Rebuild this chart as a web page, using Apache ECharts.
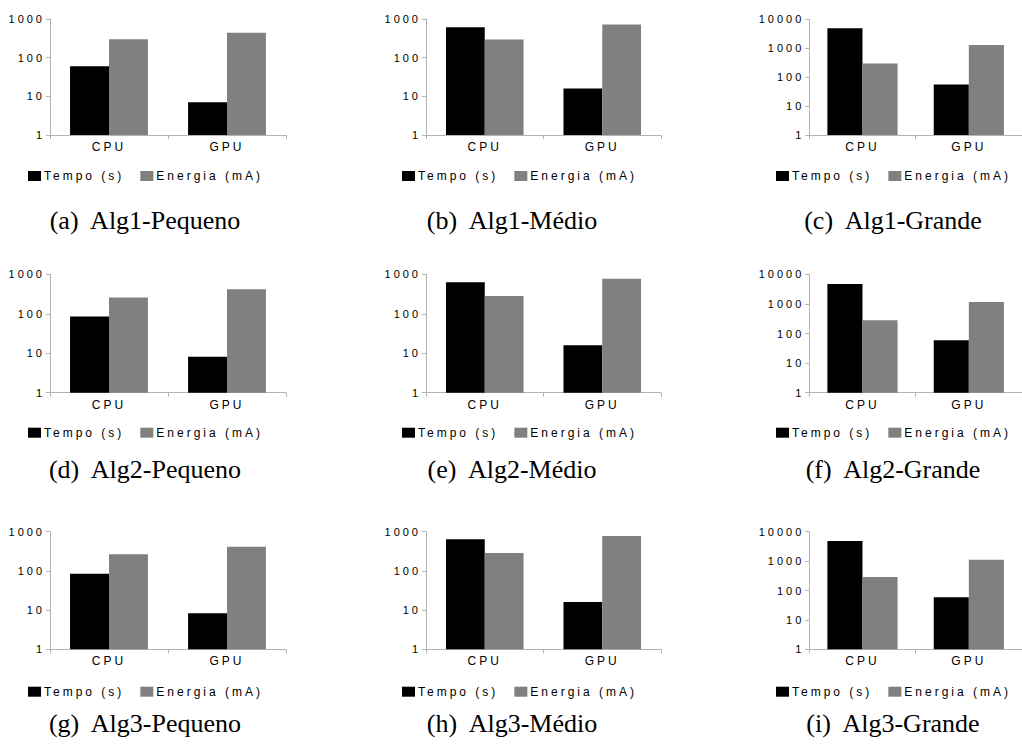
<!DOCTYPE html>
<html>
<head>
<meta charset="utf-8">
<script src="https://cdn.jsdelivr.net/npm/echarts@6/dist/echarts.min.js"></script>
<style>
  html, body { margin: 0; padding: 0; background: #fff; }
  #chart { width: 1022px; height: 749px; }
  /* the original figure uses spaced-out Arial for the chart texts */
  #chart text { letter-spacing: 3px; white-space: pre; }
  #chart text[style*="Serif"], #chart text[font-family*="Serif"] { letter-spacing: 0; }
</style>
</head>
<body>
<div id="chart"></div>
<script>
  const categories = ['CPU', 'GPU'];
  const seriesNames = ['Tempo (s)', 'Energia (mA)'];
  const captions = [
    '(a)  Alg1-Pequeno', '(b)  Alg1-Médio', '(c)  Alg1-Grande',
    '(d)  Alg2-Pequeno', '(e)  Alg2-Médio', '(f)  Alg2-Grande',
    '(g)  Alg3-Pequeno', '(h)  Alg3-Médio', '(i)  Alg3-Grande'
  ];
  const yMax = [1000, 1000, 10000, 1000, 1000, 10000, 1000, 1000, 10000];
  // one [CPU, GPU] pair per panel
  const tempo = [[60, 7], [610, 16], [4800, 55], [85, 8.2], [630, 16], [4700, 59], [85, 8.3], [640, 16], [4800, 59]];
  const energia = [[300, 440], [295, 725], [290, 1270], [258, 420], [284, 775], [280, 1150], [265, 414], [286, 777], [288, 1120]];

  const colLeft = [50, 426, 809.3];
  const colWidth = [236, 235, 224];
  const rowTop = [19, 274.3, 531.7];
  const rowHeight = [116, 118.4, 117.6];
  const legendLeft = [28, 402, 776];
  const legendTop = [170, 426.7, 685.7];
  const captionX = [145, 512, 893];
  const captionTop = [207, 456, 710];

  const sans = 'Liberation Sans';
  const axisColor = '#b3b3b3';

  const grid = [], xAxis = [], yAxis = [], series = [], legend = [], title = [];

  captions.forEach((caption, i) => {
    const row = Math.floor(i / 3);
    const col = i % 3;

    grid.push({
      left: colLeft[col],
      top: rowTop[row],
      width: colWidth[col],
      height: rowHeight[row]
    });

    xAxis.push({
      type: 'category',
      gridIndex: i,
      data: categories,
      axisLine: {lineStyle: {color: axisColor, width: 1}},
      axisTick: {show: true, length: 4, lineStyle: {color: axisColor}},
      axisLabel: {margin: 6, color: '#000', fontFamily: sans, fontSize: 12}
    });

    yAxis.push({
      type: 'log',
      gridIndex: i,
      logBase: 10,
      min: 1,
      max: yMax[i],
      splitLine: {show: false},
      axisLine: {show: true, lineStyle: {color: axisColor, width: 1}},
      axisTick: {show: true, length: 4, lineStyle: {color: axisColor}},
      axisLabel: {
        margin: 5,
        color: '#000',
        fontFamily: sans,
        fontSize: 11,
        formatter: v => String(Math.round(v))
      }
    });

    series.push({
      type: 'bar',
      name: seriesNames[0],
      xAxisIndex: i,
      yAxisIndex: i,
      data: tempo[i],
      itemStyle: {color: '#000000'},
      barGap: '0%',
      barCategoryGap: '34%',
      silent: true
    }, {
      type: 'bar',
      name: seriesNames[1],
      xAxisIndex: i,
      yAxisIndex: i,
      data: energia[i],
      itemStyle: {color: '#808080'},
      barGap: '0%',
      barCategoryGap: '34%',
      silent: true
    });

    legend.push({
      data: seriesNames,
      left: legendLeft[col],
      top: legendTop[row],
      padding: 0,
      icon: 'rect',
      itemWidth: 13,
      itemHeight: 10,
      itemGap: 43,
      selectedMode: false,
      textStyle: {color: '#000', fontFamily: sans, fontSize: 12, padding: [0, 0, 0, -2]}
    });

    title.push({
      text: caption,
      left: captionX[col],
      top: captionTop[row],
      textAlign: 'center',
      padding: 0,
      textStyle: {color: '#000', fontFamily: 'Liberation Serif', fontSize: 26, fontWeight: 'normal'}
    });
  });

  const chart = echarts.init(document.getElementById('chart'), null, {renderer: 'svg'});
  chart.setOption({
    animation: false,
    backgroundColor: '#ffffff',
    title: title,
    legend: legend,
    grid: grid,
    xAxis: xAxis,
    yAxis: yAxis,
    series: series
  });
</script>
</body>
</html>
